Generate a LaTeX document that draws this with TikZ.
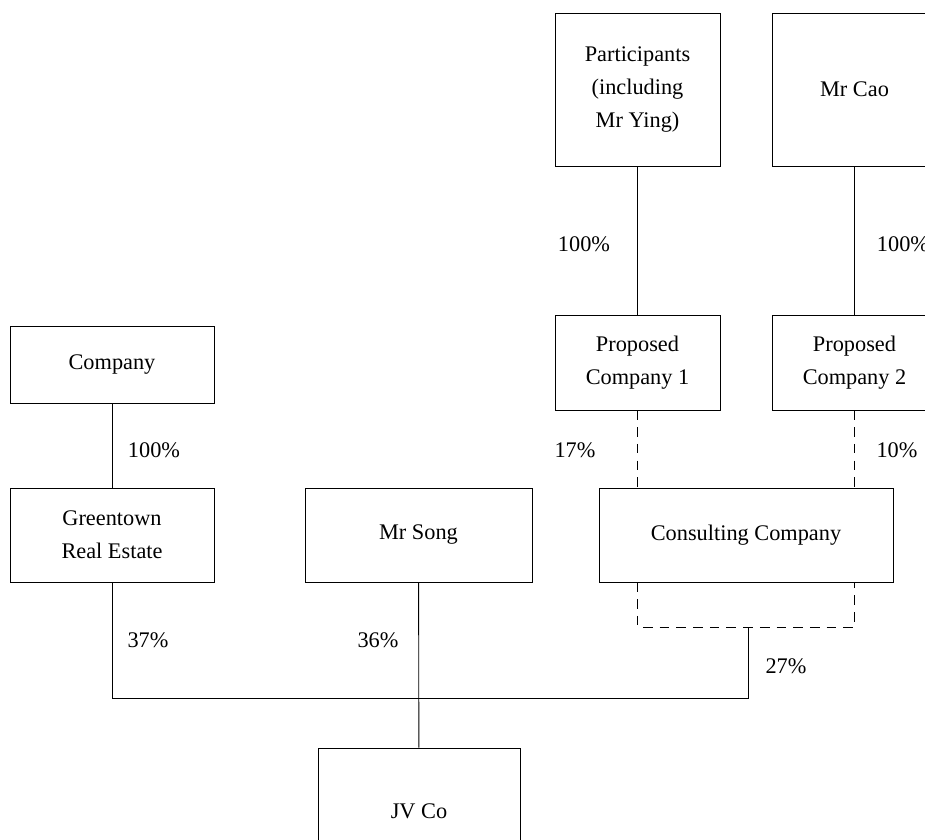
\documentclass[tikz,border=0pt]{standalone}
\usepackage{fontspec}
\setmainfont{Liberation Serif}
\begin{document}
\begin{tikzpicture}[
        x=0.02cm, y=-0.02cm, % one unit = one pixel of the chart
        line width=0.5pt,
        entity/.style={draw, rectangle, align=center, inner sep=2pt,
                font=\fontsize{12.7}{18.7}\selectfont}, % Boxes
        share/.style={font=\fontsize{12.7}{16}\selectfont}, % Percent labels
        option/.style={dash pattern=on 5.5pt off 4pt},
    ]
    \clip (0,0) rectangle (925,839);

    % Owners at the top
    \node[entity, minimum width=3.3cm, minimum height=3.06cm] (part) at (637.5,89.5) {Participants\\(including\\Mr Ying)};
    \node[entity, minimum width=3.3cm, minimum height=3.06cm] (cao) at (854.5,89.5) {Mr Cao};
    \node[entity, minimum width=3.3cm, minimum height=1.9cm] (pcone) at (637.5,362.5) {Proposed\\Company 1};
    \node[entity, minimum width=3.3cm, minimum height=1.9cm] (pctwo) at (854.5,362.5) {Proposed\\Company 2};

    % Left side
    \node[entity, minimum width=4.08cm, minimum height=1.54cm] (comp) at (112,364.5) {Company};
    \node[entity, minimum width=4.08cm, minimum height=1.88cm] (green) at (112,535) {Greentown\\Real Estate};
    \node[entity, minimum width=4.54cm, minimum height=1.88cm] (song) at (418.5,535) {Mr Song};
    \node[entity, minimum width=5.88cm, minimum height=1.88cm] (consult) at (746,535) {Consulting Company};
    \node[entity, minimum width=4.04cm, minimum height=2.52cm] (jv) at (419,811) {JV Co};

    \coordinate (dl) at (637.5,627);
    \coordinate (dr) at (854.5,627);
    \coordinate (cj) at (748,627);
    \coordinate (bus) at (748,698);

    % Connectors
    \draw (part) -- (pcone);
    \draw (cao) -- (pctwo);
    \draw (comp) -- (green);
    \draw[option] (pcone.south) -- (pcone.south |- consult.north);
    \draw[option] (pctwo.south) -- (pctwo.south |- consult.north);
    \draw[option] (pcone.south |- consult.south) -- (dl) -- (dr) -- (pctwo.south |- consult.south);
    \draw (cj) -- (bus) -- (bus -| green.south) -- (green.south);
    \draw (song) -- (jv);

    % Shares
    \node[share] (s1) at (584,244) {100\%};
    \node[share] (s2) at (903,244) {100\%};
    \node[share] (s3) at (154,450) {100\%};
    \node[share] (s4) at (575,450) {17\%};
    \node[share] (s5) at (897,450) {10\%};
    \node[share] (s6) at (148,640) {37\%};
    \node[share] (s7) at (378,640) {36\%};
    \node[share] (s8) at (786,666) {27\%};
\end{tikzpicture}
\end{document}
